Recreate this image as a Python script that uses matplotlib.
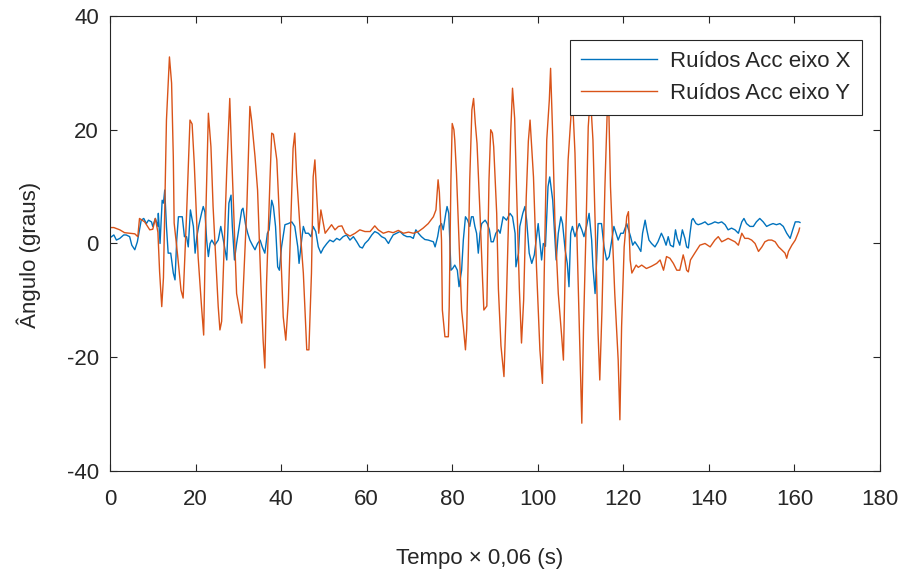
import matplotlib
matplotlib.use("Agg")
import matplotlib.pyplot as plt

plt.rcParams['font.family'] = ['Liberation Sans', 'DejaVu Sans']
plt.rcParams['axes.unicode_minus'] = False

# Ruidos Acc eixo X (azul)
tx = [0.0, 0.9, 1.5, 2.3, 3.2, 3.8, 4.6, 5.1, 5.8, 6.4, 6.9, 7.3, 7.9, 8.5, 9.0, 9.7, 10.0, 10.6, 11.2, 11.3,
      11.7, 12.2, 12.5, 12.8, 13.2, 13.6, 14.2, 14.8, 15.2, 15.6, 16.0, 16.9, 17.4, 17.9, 18.3, 18.8, 19.5, 19.9,
      20.3, 20.8, 21.4, 21.8, 22.2, 22.6, 23.0, 23.4, 23.8, 24.5, 25.3, 25.9, 26.5, 27.3, 27.8, 28.3, 28.6, 29.1,
      29.6, 30.2, 30.8, 31.1, 31.7, 32.2, 32.7, 33.3, 33.9, 34.5, 35.1, 35.6, 36.2, 36.8, 37.2, 37.8, 38.2, 38.7,
      39.2, 39.6, 40.1, 40.9, 41.7, 42.5, 43.2, 43.9, 44.2, 44.8, 45.2, 45.7, 46.4, 47.0, 47.5, 48.1, 48.7, 49.3,
      49.9, 50.7, 51.4, 52.2, 53.0, 53.7, 54.5, 55.3, 56.1, 56.9, 57.7, 58.4, 59.0, 59.6, 60.4, 61.2, 61.9, 62.7,
      63.5, 64.3, 65.1, 65.5, 66.2, 67.0, 67.8, 68.6, 69.4, 70.2, 70.9, 71.5, 72.1, 72.8, 73.6, 74.4, 75.6, 76.0,
      76.6, 77.0, 77.5, 77.9, 78.5, 78.8, 79.2, 79.7, 80.1, 80.6, 81.2, 81.6, 82.2, 82.6, 83.1, 83.6, 84.1, 84.5,
      84.9, 85.3, 85.7, 86.1, 86.5, 86.9, 87.7, 88.2, 88.7, 89.1, 89.6, 90.2, 90.8, 91.2, 91.9, 92.7, 93.5, 94.1,
      94.7, 94.9, 95.5, 95.8, 96.5, 97.0, 97.4, 98.0, 98.6, 99.2, 100.1, 100.9, 101.3, 101.8, 102.4, 102.8, 103.5,
      103.8, 104.3, 104.8, 105.4, 105.8, 106.4, 106.9, 107.3, 107.7, 108.1, 108.7, 109.2, 109.7, 110.3, 110.8,
      111.4, 112.0, 112.6, 112.9, 113.4, 113.7, 114.1, 114.9, 115.5, 116.1, 116.7, 117.3, 117.8, 118.3, 118.8,
      119.4, 120.0, 120.8, 121.2, 121.7, 122.2, 122.7, 123.5, 124.1, 124.5, 125.1, 125.5, 126.0, 126.6, 127.4,
      128.1, 128.9, 129.4, 130.0, 130.5, 131.0, 131.7, 132.2, 132.6, 133.2, 133.8, 134.4, 134.8, 135.2, 135.6,
      136.0, 136.3, 137.0, 137.5, 138.3, 139.1, 139.8, 140.6, 141.4, 142.2, 143.0, 143.8, 144.5, 145.3, 146.1,
      146.9, 147.7, 148.2, 148.8, 149.6, 150.4, 151.1, 151.9, 152.7, 153.5, 154.3, 155.0, 155.8, 156.6, 157.4,
      158.2, 159.0, 159.6, 160.2, 161.0, 161.3]
ruido_x = [1.0, 1.5, 0.6, 0.9, 1.5, 1.5, 1.2, -0.3, -1.1, 0.3, 2.4, 4.1, 4.4, 3.5, 4.1, 3.8, 3.0, 4.4, 3.0, 5.3,
           0.0, 7.6, 7.1, 9.4, 3.0, -1.7, -1.7, -5.2, -6.4, 0.6, 4.7, 4.7, 1.2, 1.2, -0.6, 5.9, 3.0, -1.7,
           1.2, 3.3, 5.3, 6.5, 5.5, 0.6, -2.3, 0.0, 0.6, -0.3, 0.6, 3.0, 0.6, -2.9, 7.1, 8.5, 3.0, -2.9,
           0.0, 3.0, 5.9, 6.2, 3.3, 1.8, 0.6, -0.3, -1.1, 0.0, 0.6, -0.6, -1.7, 1.8, 2.4, 7.6, 6.5, 3.0,
           -4.1, -4.7, -0.6, 3.3, 3.5, 3.8, 3.0, -0.6, -3.5, 0.6, 3.0, 1.8, 1.8, 1.2, 3.0, 2.1, -0.6, -1.7,
           -0.8, 0.0, 0.6, 0.3, 0.9, 0.6, 1.2, 1.5, 0.6, 1.2, 0.3, -0.6, -0.8, 0.0, 0.6, 1.5, 2.1, 1.8,
           1.2, 0.9, 0.0, 0.6, 1.5, 1.8, 2.1, 1.5, 1.2, 1.2, 0.9, 2.4, 1.8, 1.2, 0.7, 0.6, 0.3, -0.6,
           1.2, 3.0, 3.5, 2.4, 5.3, 6.5, 5.3, -4.7, -4.4, -3.8, -4.7, -7.6, -4.7, 0.6, 4.7, 4.1, 3.0, 4.7,
           4.7, 3.0, 1.8, -1.7, 1.8, 3.5, 4.1, 3.5, 2.4, 0.3, 0.3, 1.8, 2.4, 1.8, 4.7, 4.1, 5.3, 4.7,
           1.8, -4.1, -1.7, 3.0, 5.3, 6.5, 4.1, -1.7, -3.5, -2.0, 3.5, -2.9, 0.0, -0.5, 10.0, 11.7, 7.6,
           3.5, -2.9, 1.8, 4.7, 3.5, -1.1, -3.5, -7.6, 1.8, 3.0, 1.2, 2.4, 3.5, 2.4, 1.2,
           3.0, 5.3, 0.6, -4.1, -8.8, -4.1, 3.5, 3.5, -0.6, -2.9, -2.3, 0.6, 3.0, 1.8, 0.6,
           1.8, 1.8, 3.5, 2.5, 1.2, -0.3, 0.3, -0.6, -1.4, 1.8, 4.1, 2.4, 0.6, 0.0, -0.6,
           0.3, 1.8, 1.0, -0.3, 1.2, -0.3, -0.6, 2.4, 0.9, -0.3, 2.4, 0.9, -0.6, -0.8, 1.8,
           4.1, 4.4, 3.5, 3.3, 3.5, 3.8, 3.3, 3.5, 3.8, 3.6, 3.8, 3.3, 2.4, 2.7, 2.4,
           1.8, 3.8, 4.4, 3.5, 3.0, 3.0, 3.8, 4.4, 3.8, 3.0, 3.3, 3.5, 3.3, 3.5, 3.0,
           1.8, 0.9, 2.4, 3.8, 3.8, 3.7]

# Ruidos Acc eixo Y (laranja)
ty = [0.0, 0.9, 2.3, 3.4, 4.6, 5.8, 6.5, 6.9, 8.1, 9.3, 10.0, 10.6, 11.2, 11.6, 12.1, 12.5, 13.2, 13.9, 14.4,
      14.8, 15.0, 15.8, 16.6, 17.1, 17.9, 18.7, 19.2, 19.7, 20.6, 21.4, 21.9, 22.4, 23.0, 23.6, 24.1, 25.3, 25.7,
      26.1, 27.3, 28.0, 28.4, 28.8, 29.6, 30.8, 32.0, 32.7, 33.1, 33.9, 34.5, 35.3, 35.8, 36.2, 36.6, 37.4, 37.8,
      38.2, 39.0, 39.7, 40.5, 41.1, 41.7, 42.8, 43.2, 43.6, 44.4, 45.2, 46.0, 46.5, 47.1, 47.5, 47.9, 48.3, 48.8,
      49.3, 49.9, 50.3, 51.0, 51.8, 52.6, 53.4, 54.2, 55.0, 56.1, 57.3, 58.4, 59.6, 60.8, 61.9, 62.7, 63.9, 65.1,
      66.2, 67.4, 68.6, 69.8, 70.9, 72.1, 73.2, 74.4, 75.6, 76.2, 76.7, 77.0, 77.5, 77.7, 78.3, 79.1, 79.3, 79.7,
      80.0, 80.4, 80.6, 81.0, 81.7, 82.2, 82.6, 83.1, 83.4, 83.8, 84.1, 84.6, 85.0, 85.4, 85.8, 86.5, 87.1, 87.4,
      88.1, 88.6, 89.0, 89.4, 89.7, 90.4, 90.8, 91.4, 92.1, 92.6, 93.2, 93.7, 94.1, 94.6, 95.1, 95.7, 96.2, 96.7,
      97.3, 97.8, 98.2, 99.0, 99.7, 100.5, 101.1, 101.5, 102.1, 102.7, 103.0, 103.5, 104.0, 104.8, 105.6, 106.0,
      106.6, 107.1, 107.7, 108.1, 108.7, 109.1, 109.9, 110.3, 110.7, 111.3, 111.8, 112.3, 112.9, 113.6, 114.1,
      114.5, 115.0, 115.7, 116.2, 116.6, 117.0, 118.0, 118.8, 119.2, 119.6, 120.2, 120.8, 121.2, 121.6, 122.0,
      123.0, 123.5, 124.3, 125.4, 126.6, 127.8, 128.6, 129.4, 130.1, 130.9, 131.7, 132.5, 133.2, 134.0, 134.4,
      134.8, 135.2, 135.7, 136.7, 137.9, 139.1, 140.3, 141.4, 142.2, 143.0, 143.8, 144.5, 145.3, 146.1, 146.9,
      147.7, 148.4, 149.2, 150.0, 150.8, 151.6, 152.4, 153.1, 153.9, 154.7, 155.5, 156.3, 157.0, 157.8, 158.2,
      158.6, 159.4, 160.2, 161.0, 161.2]
ruido_y = [2.8, 2.8, 2.4, 1.9, 1.8, 1.7, 1.2, 4.4, 3.8, 2.4, 2.5, 4.4, 2.0, -5.0, -11.1, -6.0, 21.7, 32.8, 28.2,
           15.3, 3.6, -2.0, -8.2, -9.6, 5.0, 21.7, 21.0, 14.1, -2.3, -11.1, -16.1, 5.0, 22.9, 17.0, 6.5, -11.1, -15.2,
           -13.7, 12.9, 25.5, 16.4, 8.2, -8.8, -14.0, 6.5, 24.1, 21.7, 15.3, 9.4, -7.6, -17.0, -21.9, -7.0, 11.2, 19.4,
           19.2, 14.7, 3.0, -12.9, -17.0, -10.0, 16.7, 19.4, 12.3, 3.0, -5.2, -18.7, -18.7, -5.2, 11.7, 14.7, 9.0, 1.8,
           5.9, 3.5, 1.8, 2.5, 3.3, 2.4, 3.0, 3.1, 1.8, 1.3, 1.8, 2.4, 2.1, 2.1, 3.1, 2.4, 1.8, 2.1,
           1.9, 2.3, 1.8, 2.0, 1.8, 2.1, 2.7, 3.5, 4.7, 5.9, 11.2, 9.0, 0.6, -11.7, -16.4, -16.4, -11.1, 11.2,
           21.1, 20.0, 18.2, 12.3, -1.7, -11.7, -14.6, -18.7, -15.0, -0.6, 11.2, 23.5, 25.5, 21.1, 17.6, 5.3, -6.4, -11.7,
           -11.0, 11.2, 20.0, 19.4, 17.0, 5.3, -8.0, -18.0, -23.4, -12.0, 5.0, 20.0, 27.3, 22.0, 8.0, -8.0, -17.5, -10.0,
           8.0, 18.0, 21.7, 11.7, -4.1, -18.7, -24.6, -5.8, 18.2, 25.2, 30.8, 18.8, 4.1, -8.8, -16.4, -20.5,
           3.0, 14.7, 21.7, 26.0, 15.9, 3.0, -20.5, -31.6, -14.6, 3.0, 20.5, 26.0, 18.2, -1.7, -15.8,
           -24.0, -12.0, 10.0, 22.3, 24.0, 10.0, -8.8, -20.5, -31.0, -14.6, -0.6, 4.7, 5.6, -2.9, -5.2,
           -3.8, -4.2, -3.8, -4.4, -4.0, -3.5, -2.9, -4.7, -2.3, -2.6, -3.5, -4.7, -4.7, -2.0, -3.2,
           -4.7, -5.0, -2.9, -1.7, -0.3, 0.0, -0.6, 0.6, 1.2, 0.3, 0.6, 0.9, 0.6, 0.3, -0.3,
           1.8, 0.9, 0.9, 0.6, 0.0, -1.4, -0.6, 0.3, 0.6, 0.6, 0.3, -0.6, -1.1, -1.7, -2.6,
           -1.4, -0.3, 0.6, 2.1, 2.7]

xticks = [0, 20, 40, 60, 80, 100, 120, 140, 160, 180]
yticks = [-40, -20, 0, 20, 40]

cinza = '#262626'
fs = 16

fig = plt.figure(figsize=(9.03, 5.75), dpi=100)
ax = fig.add_axes([0.1218, 0.1809, 0.8527, 0.7913])

ax.plot(tx, ruido_x, color='#0072BD', linewidth=1.0, label='Ruídos Acc eixo X')
ax.plot(ty, ruido_y, color='#D95319', linewidth=1.0, label='Ruídos Acc eixo Y')

ax.set_xlim(0, 180)
ax.set_ylim(-40, 40)
ax.set_xticks(xticks)
ax.set_yticks(yticks)
ax.tick_params(direction='in', length=5, width=0.8, colors=cinza, labelsize=fs,
               top=True, right=True)
ax.tick_params(axis='x', pad=13)
ax.tick_params(axis='y', pad=8)
for s in ax.spines.values():
    s.set_color(cinza)
    s.set_linewidth(0.8)

ax.set_xlabel('Tempo × 0,06 (s)', fontsize=fs, color=cinza)
ax.xaxis.set_label_coords(0.4805, -0.170)
ax.set_ylabel('Ângulo (graus)', fontsize=fs, color=cinza)
ax.yaxis.set_label_coords(-0.090, 0.475)

leg = ax.legend(loc='upper right', bbox_to_anchor=(0.9766, 0.9473), borderaxespad=0,
                fontsize=fs, frameon=True, fancybox=False, framealpha=1, edgecolor=cinza,
                handlelength=3.4, borderpad=0.5, labelspacing=0.5, handletextpad=0.6)
leg.get_frame().set_linewidth(0.8)
for t in leg.get_texts():
    t.set_color(cinza)

fig.savefig('out.png', dpi=100)
